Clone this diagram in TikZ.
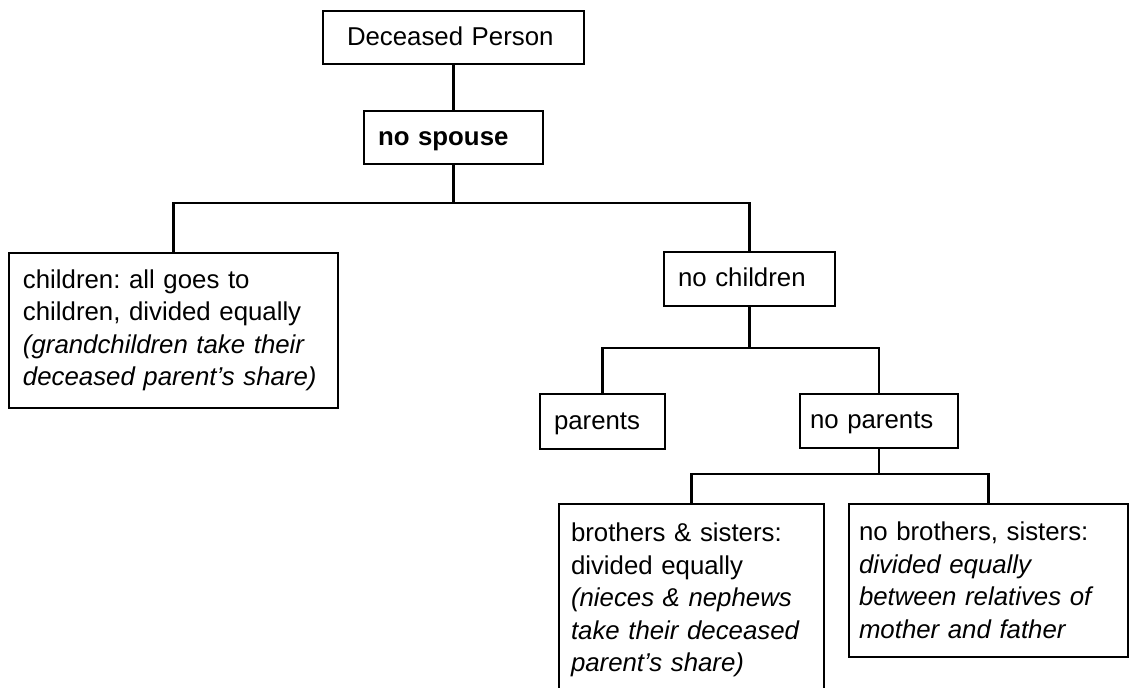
\documentclass[tikz,border=0pt]{standalone}
\usepackage{fontspec}
\setmainfont{Liberation Sans}
\frenchspacing

\tikzset{
  box/.style={draw, line width=1.3pt, inner xsep=7pt, inner ysep=0pt, align=left},
  single/.style={text height=8pt, text depth=0pt},
  link/.style={line width=1.1pt}
}

\begin{document}
\begin{tikzpicture}[x=0.5pt, y=-0.5pt, font=\fontsize{12.9}{16.25}\selectfont]
\useasboundingbox (0,0) rectangle (1131,688);

\node [box, single, inner xsep=12pt, text width=106.5pt, minimum width=130.5pt, minimum height=26.5pt] (dead) at (453.5,37.5) {Deceased Person};
\node [box, single, text width=75.5pt, minimum height=26.5pt] (nospouse) at (453.5,137.5) {\textbf{no spouse}};

\node [box, text width=150.5pt, minimum height=77.5pt] (children) at (173.5,330.5)
  {children: all goes to\\ children, divided equally\\ \textit{(grandchildren take their}\\ \textit{deceased parent's share)}};
\node [box, single, text width=71.5pt, minimum height=27pt] (nochildren) at (749.5,279) {no children};

\node [box, single, text width=48.5pt, minimum height=27.5pt] (parents) at (602.5,421.5) {parents};
\node [box, single, inner xsep=5pt, text width=69pt, minimum height=27pt] (noparents) at (879,421) {no parents};

\node [box, inner xsep=6pt, text width=120.5pt, minimum height=96pt] (siblings) at (691.5,600)
  {brothers \& sisters:\\ divided equally\\ \textit{(nieces \& nephews}\\ \textit{take their deceased}\\ \textit{parent's share)}};
\node [box, inner xsep=5pt, text width=129.5pt, minimum height=76.5pt] (nosiblings) at (988.5,580.5)
  {no brothers, sisters:\\ \textit{divided equally}\\ \textit{between relatives of}\\ \textit{mother and father}};

% branch points
\coordinate (bar1) at (453.5,203);
\coordinate (bar2) at (749.5,348);
\coordinate (bar3) at (879,474);

\draw [link] (dead) -- (nospouse);
\draw [link] (nospouse) -- (bar1);
\draw [link] (children.north) |- (bar1) -| (nochildren.north);

\draw [link] (nochildren) -- (bar2);
\draw [link] (parents.north) |- (bar2) -| (noparents.north);

\draw [link] (noparents) -- (bar3);
\draw [link] (siblings.north) |- (bar3) -| (nosiblings.north);

\end{tikzpicture}
\end{document}
